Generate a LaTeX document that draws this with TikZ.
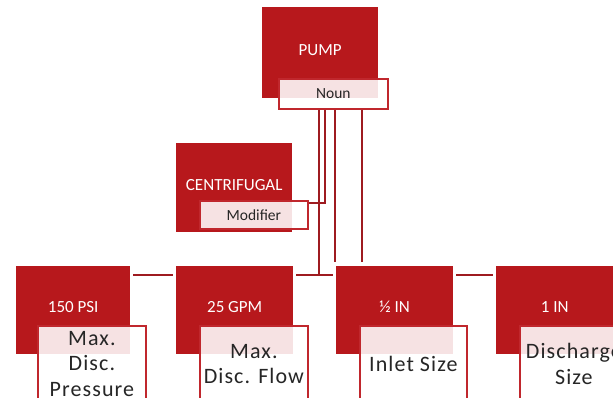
\documentclass[tikz,border=0pt]{standalone}
\usepackage{fontspec}
\setmainfont{Carlito}
\newfontfamily\lblfont[LetterSpace=5]{Carlito}
\definecolor{boxred}{RGB}{183,24,28}
\definecolor{linered}{RGB}{158,27,32}
\definecolor{edgered}{RGB}{192,39,45}
\definecolor{txtgray}{RGB}{38,38,38}
\tikzset{
  bigbox/.style={fill=boxred, draw=none, anchor=north west, inner sep=0pt, minimum width=#1, minimum height=89pt},
  bigbox/.default=116pt,
  titletxt/.style={text=white, inner sep=0pt, font=\fontsize{17}{20}\selectfont},
  smalllbl/.style={fill=white, fill opacity=0.88, text opacity=1, draw=edgered, line width=1.8pt,
    anchor=north west, inner sep=0pt, minimum width=108pt, minimum height=29pt, text=txtgray,
    font=\fontsize{15.5}{18}\selectfont},
  biglbl/.style={fill=white, fill opacity=0.88, text opacity=1, draw=edgered, line width=1.8pt,
    anchor=north west, inner sep=0pt, minimum width=108pt, minimum height=76pt, text=txtgray,
    align=center, font=\lblfont\fontsize{22}{25.5}\selectfont},
  conn/.style={draw=linered, line width=2.2pt}
}
\begin{document}
\begin{tikzpicture}[x=1pt,y=-1pt]
  \useasboundingbox (0,0) rectangle (613,397);
  \clip (0,0) rectangle (613,397);
  % main boxes
  \node[bigbox, minimum height=91pt] (pump) at (262,7) {};
  \node[bigbox] (cent) at (176,143) {};
  \node[bigbox=114pt, minimum height=88pt] (psi) at (16,266) {};
  \node[bigbox=117pt, minimum height=88pt] (gpm) at (176,266) {};
  \node[bigbox=117pt, minimum height=88pt] (inlet) at (336,266) {};
  \node[bigbox=117pt, minimum height=88pt] (dis) at (496,266) {};
  % titles
  \node[titletxt] (pumpt) at ([yshift=3pt]pump.center) {PUMP};
  \node[titletxt] (centt) at ([yshift=3pt]cent.center) {CENTRIFUGAL};
  \node[titletxt] (psit) at ([yshift=3pt]psi.center) {150 PSI};
  \node[titletxt] (gpmt) at ([yshift=3pt]gpm.center) {25 GPM};
  \node[titletxt] (inlett) at ([yshift=3pt]inlet.center) {½ IN};
  \node[titletxt] (dist) at ([yshift=3pt]dis.center) {1 IN};
  % label boxes
  \node[smalllbl, minimum height=30pt, minimum width=109pt] (noun) at (278,78) {Noun};
  \node[smalllbl, minimum height=28pt] (mod) at (199,200) {Modifier};
  \node[biglbl] (psil) at (37,325) {Max.\\Disc.\\Pressure};
  \node[biglbl] (gpml) at (199,325) {Max.\\Disc. Flow};
  \node[biglbl, minimum width=107pt] (inletl) at (359,325) {Inlet Size};
  \node[biglbl] (disl) at (519,325) {Discharge\\Size};
  % helper coordinates
  \coordinate (row) at ([yshift=-9pt]gpm.north east);
  \coordinate (itop) at ([yshift=4pt]inlet.north);
  % connectors
  \draw[conn] ([xshift=3pt,yshift=-9pt]psi.north east) -- ([xshift=-3pt,yshift=-9pt]gpm.north west);
  \draw[conn] ([xshift=3pt,yshift=-9pt]gpm.north east) -- ([xshift=-3pt,yshift=-9pt]inlet.north west);
  \draw[conn] ([xshift=3pt,yshift=-9pt]inlet.north east) -- ([xshift=-3pt,yshift=-9pt]dis.north west);
  \draw[conn] ([xshift=41pt]noun.south west) -- ([xshift=41pt]noun.south west |- row);
  \draw[conn] ([xshift=47pt]noun.south west) |- ([yshift=-3pt]mod.north east);
  \draw[conn] ([xshift=57pt]noun.south west) -- ([xshift=57pt]noun.south west |- itop);
  \draw[conn] ([xshift=84pt]noun.south west) -- ([xshift=84pt]noun.south west |- itop);
\end{tikzpicture}
\end{document}
